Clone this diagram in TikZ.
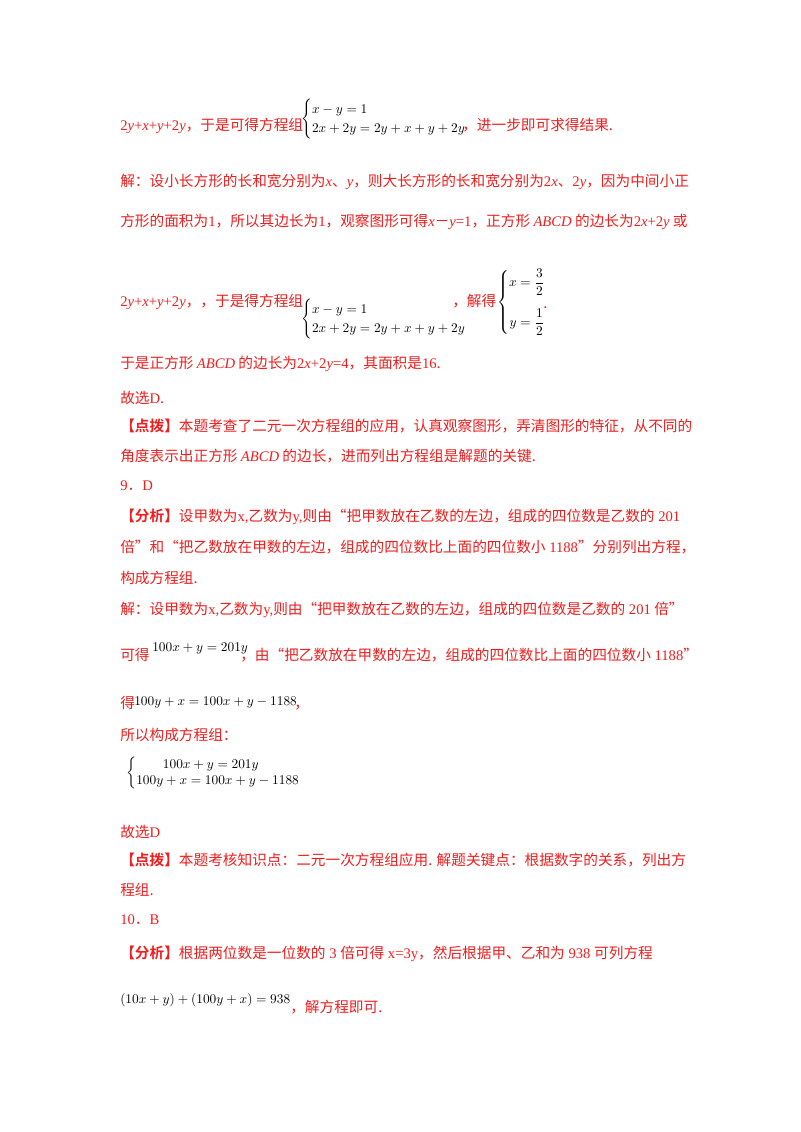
\documentclass[tikz,border=0pt]{standalone}
\usepackage{fontspec}
\usepackage{amsmath}
\setmainfont{Liberation Serif}
\newfontfamily\cjk{Noto Sans CJK SC}[BoldFont={Noto Sans CJK SC Bold}]
\newcommand\iv[1]{{\rmfamily\itshape #1}}
\newcommand\rn[1]{{\rmfamily #1}}
\definecolor{tred}{RGB}{240,30,30}
\begin{document}
\begin{tikzpicture}[x=0.75pt,y=-0.75pt,
  txt/.style={anchor=base west,inner sep=0pt,text=tred,font=\cjk\fontsize{11}{13}\selectfont},
  mth/.style={anchor=base west,inner sep=0pt,text=black,font=\fontsize{10}{12}\selectfont}]
\useasboundingbox[fill=white] (0,0) rectangle (800,1132);
% block 1
\node[txt] (l1) at (120,130) {\rn{2}\iv{y}\rn{+}\iv{x}\rn{+}\iv{y}\rn{+2}\iv{y}，于是可得方程组};
\node[mth,anchor=west] (s1) at (301,119) {$\begin{cases} x-y=1\\ 2x+2y=2y+x+y+2y\end{cases}$};
\node[txt] (l1b) at (462,130) {，进一步即可求得结果.};
\node[txt] (l2) at (120,186) {解：设小长方形的长和宽分别为\iv{x}、\iv{y}，则大长方形的长和宽分别为\rn{2}\iv{x}、\rn{2}\iv{y}，因为中间小正};
\node[txt] (l3) at (120,226) {方形的面积为\rn{1}，所以其边长为\rn{1}，观察图形可得\iv{x}－\iv{y}\rn{=1}，正方形 \iv{ABCD} 的边长为\rn{2}\iv{x}\rn{+2}\iv{y} 或};
\node[txt] (l4) at (120,306) {\rn{2}\iv{y}\rn{+}\iv{x}\rn{+}\iv{y}\rn{+2}\iv{y}，，于是得方程组};
\node[mth,anchor=west] (s2) at (301,319) {$\begin{cases} x-y=1\\ 2x+2y=2y+x+y+2y\end{cases}$};
\node[txt] (l4b) at (452,306) {，解得};
\node[mth,anchor=west] (s3) at (497,302) {$\left\{\begin{aligned} x&=\frac{3}{2}\\[6pt] y&=\frac{1}{2}\end{aligned}\right.$};
\node[txt] (dot) at (543,308) {.};
\node[txt] (l5) at (120,368) {于是正方形 \iv{ABCD} 的边长为\rn{2}\iv{x}\rn{+2}\iv{y}\rn{=4}，其面积是\rn{16}.};
\node[txt] (l6) at (120,403) {故选\rn{D}.};
\node[txt] (l7) at (120,431) {\textbf{【点拨】}本题考查了二元一次方程组的应用，认真观察图形，弄清图形的特征，从不同的};
\node[txt] (l8) at (120,461) {角度表示出正方形 \iv{ABCD} 的边长，进而列出方程组是解题的关键.};
% block 9
\node[txt] (n9) at (120,490) {\rn{9}．\rn{D}};
\node[txt] (l9) at (120,521) {\textbf{【分析】}设甲数为\rn{x,}乙数为\rn{y,}则由“把甲数放在乙数的左边，组成的四位数是乙数的\rn{ 201}};
\node[txt] (l10) at (120,552) {倍”和“把乙数放在甲数的左边，组成的四位数比上面的四位数小\rn{ 1188}”分别列出方程，};
\node[txt] (l11) at (120,583) {构成方程组.};
\node[txt] (l12) at (120,614) {解：设甲数为\rn{x,}乙数为\rn{y,}则由“把甲数放在乙数的左边，组成的四位数是乙数的\rn{ 201} 倍”};
\node[txt] (l13) at (120,660) {可得};
\node[mth] (e1) at (152,651) {$100x+y=201y$};
\node[txt] (l13b) at (240,660) {，由“把乙数放在甲数的左边，组成的四位数比上面的四位数小\rn{ 1188}”};
\node[txt] (l14) at (120,708) {得};
\node[mth] (e2) at (134,705) {$100y+x=100x+y-1188$};
\node[txt] (l14b) at (294,708) {，};
\node[txt] (l15) at (120,740) {所以构成方程组：};
\node[mth,anchor=west] (s4) at (126,773) {$\left\{\begin{array}{@{}l@{}}\qquad 100x+y=201y\\ 100y+x=100x+y-1188\end{array}\right.$};
\node[txt] (l16) at (120,837) {故选\rn{D}};
\node[txt] (l17) at (120,865) {\textbf{【点拨】}本题考核知识点：二元一次方程组应用. 解题关键点：根据数字的关系，列出方};
\node[txt] (l18) at (120,895) {程组.};
% block 10
\node[txt] (n10) at (120,924) {\rn{10}．\rn{B}};
\node[txt] (l19) at (120,958) {\textbf{【分析】}根据两位数是一位数的\rn{ 3 }倍可得\rn{ x=3y}，然后根据甲、乙和为\rn{ 938 }可列方程};
\node[mth] (e3) at (120,1003) {$(10x+y)+(100y+x)=938$};
\node[txt] (l20) at (290,1012) {，解方程即可.};
\end{tikzpicture}
\end{document}
